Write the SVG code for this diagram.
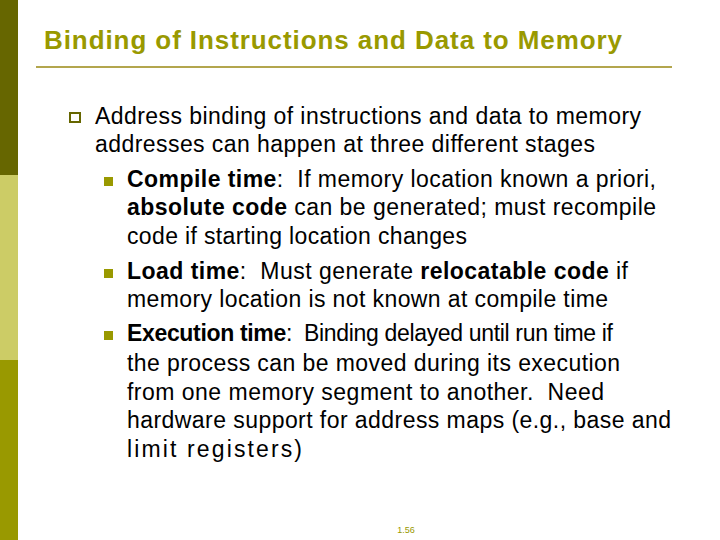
<svg xmlns="http://www.w3.org/2000/svg" width="720" height="540" viewBox="0 0 720 540">
<style>
.t{font-family:"Liberation Sans",Arial,sans-serif;font-size:23px;fill:#000;white-space:pre}
.b{font-weight:bold}
.s{fill:#999900}
</style>
<rect width="720" height="540" fill="#fff"/>
<rect x="0" y="0" width="18" height="175" fill="#666600"/>
<rect x="0" y="175" width="18" height="185" fill="#cccc66"/>
<rect x="0" y="360" width="18" height="180" fill="#999900"/>
<text x="44" y="49" font-family="Liberation Sans,Arial,sans-serif" font-size="26" font-weight="bold" fill="#999900" textLength="578" lengthAdjust="spacing">Binding of Instructions and Data to Memory</text>
<rect x="36" y="66" width="636" height="2" fill="#b3a64d"/>
<rect x="70" y="113" width="10" height="9" fill="none" stroke="#666600" stroke-width="2"/>
<text class="t" x="95" y="124" textLength="546" lengthAdjust="spacing">Address binding of instructions and data to memory</text>
<text class="t" x="95" y="152" textLength="500" lengthAdjust="spacing">addresses can happen at three different stages</text>
<rect class="s" x="104" y="177" width="9" height="9"/>
<text class="t" x="127" y="187" textLength="529" lengthAdjust="spacing"><tspan class="b">Compile time</tspan>:  If memory location known a priori,</text>
<text class="t" x="127" y="215" textLength="529" lengthAdjust="spacing"><tspan class="b">absolute code</tspan> can be generated; must recompile</text>
<text class="t" x="127" y="244" textLength="340" lengthAdjust="spacing">code if starting location changes</text>
<rect class="s" x="104" y="269" width="9" height="9"/>
<text class="t" x="127" y="279" textLength="501" lengthAdjust="spacing"><tspan class="b">Load time</tspan>:  Must generate <tspan class="b">relocatable code</tspan> if</text>
<text class="t" x="127" y="307" textLength="481" lengthAdjust="spacing">memory location is not known at compile time</text>
<rect class="s" x="104" y="331" width="9" height="9"/>
<text class="t" x="127" y="341" textLength="486" lengthAdjust="spacing"><tspan class="b">Execution time</tspan>:  Binding delayed until run time if</text>
<text class="t" x="127" y="371" textLength="493" lengthAdjust="spacing">the process can be moved during its execution</text>
<text class="t" x="127" y="400" textLength="477" lengthAdjust="spacing">from one memory segment to another.  Need</text>
<text class="t" x="127" y="428" textLength="544" lengthAdjust="spacing">hardware support for address maps (e.g., base and</text>
<text class="t" x="127" y="457" textLength="175" lengthAdjust="spacing">limit registers)</text>
<text x="406" y="533" font-family="Liberation Sans,Arial,sans-serif" font-size="9" fill="#999900" text-anchor="middle">1.56</text>
</svg>
